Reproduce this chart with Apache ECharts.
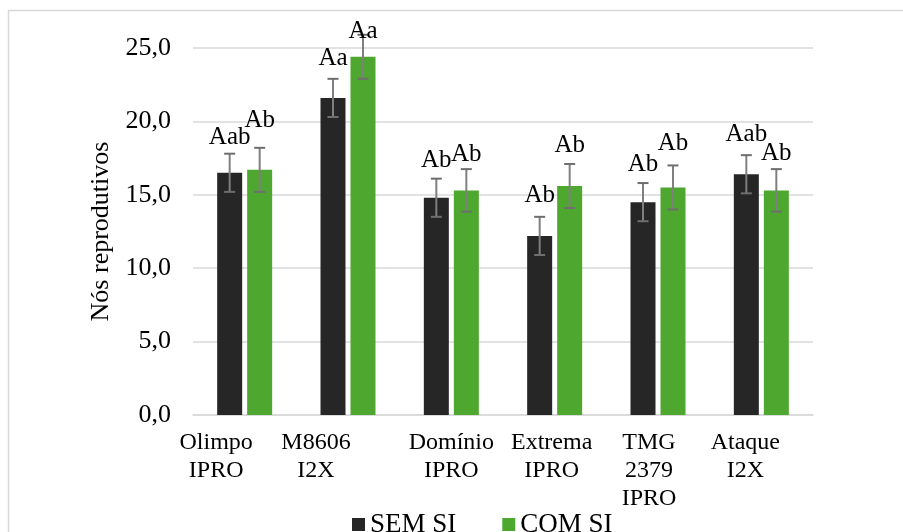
<!DOCTYPE html>
<html>
<head>
<meta charset="utf-8">
<script src="https://cdn.jsdelivr.net/npm/echarts@6/dist/echarts.min.js"></script>
<style>
  html, body { margin: 0; padding: 0; background: #ffffff; }
  #chart { width: 903px; height: 532px; }
</style>
</head>
<body>
<div id="chart"></div>
<script>
// ---- data ----
var categories = ['Olimpo\nIPRO', 'M8606\nI2X', 'Domínio\nIPRO', 'Extrema\nIPRO', 'TMG\n2379\nIPRO', 'Ataque\nI2X'];
var seriesNames = ['SEM SI', 'COM SI'];
var semMean = [16.5, 21.6, 14.8, 12.2, 14.5, 16.4];
var semErr  = [1.3, 1.3, 1.3, 1.3, 1.3, 1.3];
var semLabels = ['Aab', 'Aa', 'Ab', 'Ab', 'Ab', 'Aab'];
var comMean = [16.7, 24.4, 15.3, 15.6, 15.5, 15.3];
var comErr  = [1.5, 1.5, 1.45, 1.5, 1.5, 1.45];
var comLabels = ['Ab', 'Aa', 'Ab', 'Ab', 'Ab', 'Ab'];
var yTicks = { min: 0, max: 25, interval: 5 };

// ---- styling ----
var FONT = "'Liberation Serif', 'Times New Roman', serif";
var colors = ['#262626', '#4ea72e'];
// small per-label vertical tweaks (px, positive = higher) to mimic hand-placed labels
var semDy = [-2, 2, 0, 3, 0, 2];
var comDy = [9, -15, -4, 0, 4, -3];
// category label horizontal shifts (right padding in px)
var catPad = [57, 64, 0, 6, 18, 32];

var chart = echarts.init(document.getElementById('chart'), null, { renderer: 'canvas' });

function errRenderer(offset, labels, dys) {
  return function (params, api) {
    var idx = api.value(0);
    var mean = api.value(1);
    var err = api.value(2);
    var top = api.coord([idx, mean + err]);
    var bot = api.coord([idx, mean - err]);
    var x = top[0] + offset;
    var cap = 5.5;
    var lineStyle = { stroke: '#7f7f7f', lineWidth: 2 };
    var capStyle = { stroke: '#6e6e6e', lineWidth: 2 };
    return {
      type: 'group',
      children: [
        { type: 'line', shape: { x1: x, y1: top[1], x2: x, y2: bot[1] }, style: lineStyle },
        { type: 'line', shape: { x1: x - cap, y1: top[1], x2: x + cap, y2: top[1] }, style: capStyle },
        { type: 'line', shape: { x1: x - cap, y1: bot[1], x2: x + cap, y2: bot[1] }, style: capStyle },
        {
          type: 'text',
          style: {
            text: labels[params.dataIndex],
            x: x,
            y: top[1] - 12 - dys[params.dataIndex] + 6,
            align: 'center',
            verticalAlign: 'bottom',
            font: '25px ' + FONT,
            fill: '#000000'
          }
        }
      ]
    };
  };
}

function toData(means, errs) {
  return means.map(function (m, i) { return [i, m, errs[i]]; });
}

var rich = {};
catPad.forEach(function (p, i) {
  rich['c' + i] = { padding: [0, p, 0, 0], fontSize: 24, lineHeight: 28, fontFamily: FONT, color: '#000000' };
});

var option = {
  animation: false,
  backgroundColor: '#ffffff',
  graphic: [{
    type: 'rect',
    shape: { x: 8.5, y: 10.5, width: 1000, height: 1000 },
    style: { fill: 'none', stroke: '#d9d9d9', lineWidth: 1.5 },
    silent: true,
    z: -10
  }],
  grid: { left: 193, right: 90, top: 48, bottom: 117, containLabel: false },
  legend: {
    data: seriesNames,
    left: 347,
    top: 506,
    itemWidth: 13,
    itemHeight: 13,
    itemGap: 46,
    icon: 'rect',
    textStyle: { fontFamily: FONT, fontSize: 27, color: '#000000' }
  },
  xAxis: {
    type: 'category',
    data: categories,
    axisLine: { lineStyle: { color: '#d9d9d9', width: 1.5 } },
    axisTick: { show: false },
    axisLabel: {
      interval: 0,
      margin: 14,
      fontFamily: FONT,
      fontSize: 24,
      lineHeight: 28,
      color: '#000000',
      rich: rich,
      formatter: function (value, index) {
        return value.split('\n').map(function (s) { return '{c' + index + '|' + s + '}'; }).join('\n');
      }
    }
  },
  yAxis: {
    type: 'value',
    min: yTicks.min,
    max: yTicks.max,
    interval: yTicks.interval,
    name: 'Nós reprodutivos',
    nameLocation: 'middle',
    nameGap: 76,
    nameTextStyle: { fontFamily: FONT, fontSize: 26, color: '#000000' },
    axisLine: { show: false },
    axisTick: { show: false },
    splitLine: { lineStyle: { color: '#d9d9d9', width: 1.5 } },
    axisLabel: {
      margin: 22,
      fontFamily: FONT,
      fontSize: 26,
      color: '#000000',
      formatter: function (v) { return v.toFixed(1).replace('.', ','); }
    }
  },
  series: [
    {
      name: seriesNames[0], type: 'bar', data: semMean, barWidth: 25, barGap: '20%',
      itemStyle: { color: colors[0] }
    },
    {
      name: seriesNames[1], type: 'bar', data: comMean, barWidth: 25, barGap: '20%',
      itemStyle: { color: colors[1] }
    },
    {
      type: 'custom', clip: false, z: 5,
      data: toData(semMean, semErr),
      encode: { x: 0, y: 1 },
      renderItem: errRenderer(-15, semLabels, semDy)
    },
    {
      type: 'custom', clip: false, z: 5,
      data: toData(comMean, comErr),
      encode: { x: 0, y: 1 },
      renderItem: errRenderer(15, comLabels, comDy)
    }
  ]
};

chart.setOption(option);
</script>
</body>
</html>
